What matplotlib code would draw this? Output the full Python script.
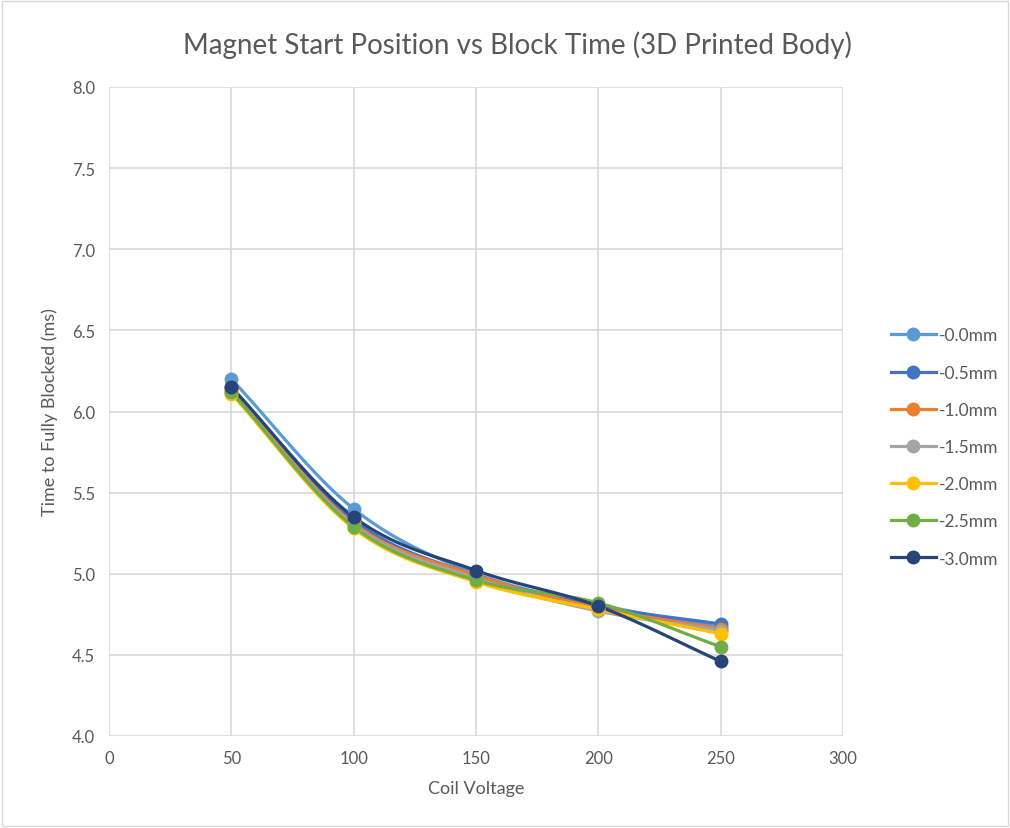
import numpy as np
import matplotlib
matplotlib.use("Agg")
import matplotlib.pyplot as plt

voltage = [50, 100, 150, 200, 250]
labels = ["-0.0mm", "-0.5mm", "-1.0mm", "-1.5mm", "-2.0mm", "-2.5mm", "-3.0mm"]
t_00 = [6.20, 5.40, 5.00, 4.81, 4.67]
t_05 = [6.15, 5.33, 4.99, 4.80, 4.69]
t_10 = [6.13, 5.31, 4.99, 4.79, 4.66]
t_15 = [6.12, 5.30, 4.97, 4.77, 4.65]
t_20 = [6.11, 5.28, 4.95, 4.78, 4.63]
t_25 = [6.12, 5.29, 4.96, 4.82, 4.55]
t_30 = [6.15, 5.35, 5.02, 4.80, 4.46]
series = [t_00, t_05, t_10, t_15, t_20, t_25, t_30]
colors = ["#5B9BD5", "#4472C4", "#ED7D31", "#A5A5A5", "#FFC000", "#70AD47", "#264478"]

plt.rcParams["font.family"] = ["Lato", "DejaVu Sans"]


def smooth(x, y, n=30):
    # catmull-rom like excel's smoothed line
    x = np.asarray(x, float)
    y = np.asarray(y, float)
    px = np.concatenate([[2 * x[0] - x[1]], x, [2 * x[-1] - x[-2]]])
    py = np.concatenate([[2 * y[0] - y[1]], y, [2 * y[-1] - y[-2]]])
    xs, ys = [], []
    t = np.linspace(0, 1, n)
    for i in range(1, len(px) - 2):
        for p, out in ((px, xs), (py, ys)):
            p0, p1, p2, p3 = p[i - 1], p[i], p[i + 1], p[i + 2]
            out.append(0.5 * (2 * p1 + (-p0 + p2) * t + (2 * p0 - 5 * p1 + 4 * p2 - p3) * t ** 2
                              + (-p0 + 3 * p1 - 3 * p2 + p3) * t ** 3))
    return np.concatenate(xs), np.concatenate(ys)


fig = plt.figure(figsize=(10.1, 8.29), dpi=100)
ax = fig.add_axes([109 / 1010, 1 - 737 / 829, (843 - 109) / 1010, (737 - 88) / 829])

for lab, vals, c in zip(labels, series, colors):
    sx, sy = smooth(voltage, vals)
    ax.plot(sx, sy, color=c, lw=2.3, zorder=3)
    ax.plot(voltage, vals, "o", color=c, ms=9, zorder=4)
    ax.plot([], [], "-o", color=c, lw=2.3, ms=9, label=lab)

ax.set_xlim(0, 300)
ax.set_ylim(4.0, 8.0)
ax.set_xticks(np.arange(0, 301, 50))
ax.set_yticks(np.arange(4.0, 8.01, 0.5))
ax.yaxis.set_major_formatter(matplotlib.ticker.FormatStrFormatter("%.1f"))
ax.grid(True, color="#D9D9D9", lw=1.2)
ax.set_axisbelow(True)
for s in ax.spines.values():
    s.set_visible(False)
ax.tick_params(length=0, labelsize=12, colors="#595959", pad=10)

ax.set_xlabel("Coil Voltage", fontsize=13, color="#595959", labelpad=10)
ax.set_ylabel("Time to Fully Blocked (ms)", fontsize=13, color="#595959", labelpad=10)
fig.text(0.512, 1 - 45 / 829, "Magnet Start Position vs Block Time (3D Printed Body)",
         ha="center", va="center", fontsize=20, color="#595959")

ax.legend(loc="center left", bbox_to_anchor=(875 / 1010, 1 - 448 / 829), bbox_transform=fig.transFigure,
          frameon=False, fontsize=12.5, labelcolor="#595959", handlelength=2.6,
          labelspacing=1.22, handletextpad=0.2)

fig.add_artist(plt.Rectangle((0.002, 0.002), 0.996, 0.996, transform=fig.transFigure,
                             fill=False, edgecolor="#D9D9D9", lw=1))

fig.savefig("out.png", dpi=100)
